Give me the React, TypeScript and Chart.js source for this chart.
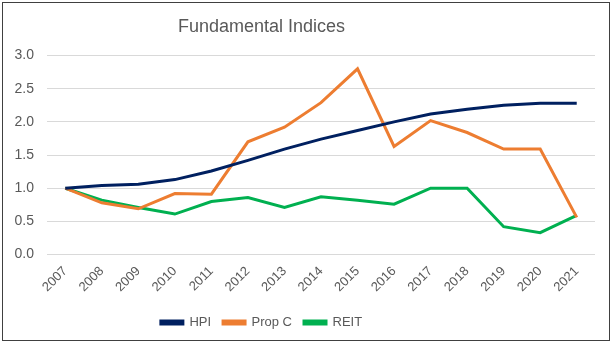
import React, { useEffect, useRef } from "react";
import { Chart, registerables } from "chart.js";

Chart.register(...registerables);

const years = ["2007","2008","2009","2010","2011","2012","2013","2014","2015","2016","2017","2018","2019","2020","2021"];
const hpi = [1.0, 1.04, 1.06, 1.13, 1.26, 1.42, 1.59, 1.74, 1.87, 2.0, 2.12, 2.19, 2.25, 2.28, 2.28];
const propC = [1.0, 0.78, 0.69, 0.92, 0.91, 1.70, 1.92, 2.29, 2.80, 1.63, 2.02, 1.84, 1.59, 1.59, 0.56];
const reit = [1.0, 0.82, 0.71, 0.61, 0.80, 0.86, 0.71, 0.87, 0.82, 0.76, 1.0, 1.0, 0.42, 0.33, 0.59];

const FONT = "'Liberation Sans', Arial, sans-serif";
const GREY = "#595959";

// Excel centres title and legend slightly left of the canvas centre
const shiftLeft = {
  id: "shiftLeft",
  afterLayout(chart: any) {
    const d = 36;
    if (chart.titleBlock) { chart.titleBlock.left -= d; chart.titleBlock.right -= d; }
    if (chart.legend) { chart.legend.left -= d; chart.legend.right -= d; }
  },
};

export default function App() {
  const ref = useRef<HTMLCanvasElement | null>(null);
  useEffect(() => {
    document.body.style.margin = "0";
    const ctx = ref.current!;
    const mk = (label: string, data: number[], color: string) => ({
      label, data, borderColor: color, backgroundColor: color,
      borderWidth: 3, pointRadius: 0, tension: 0, fill: false,
    });
    const chart = new Chart(ctx, {
      type: "line",
      data: {
        labels: years,
        datasets: [mk("HPI", hpi, "#002060"), mk("Prop C", propC, "#ED7D31"), mk("REIT", reit, "#00B050")],
      },
      plugins: [shiftLeft],
      options: {
        animation: false,
        responsive: false,
        maintainAspectRatio: false,
        layout: { padding: { left: 0, right: 19, top: 0, bottom: 7 } },
        plugins: {
          title: {
            display: true, text: "Fundamental Indices", color: GREY,
            font: { family: FONT, size: 18, weight: "normal" },
            padding: { top: 16, bottom: 18 },
          },
          legend: {
            position: "bottom",
            labels: {
              color: GREY, font: { family: FONT, size: 13 },
              boxWidth: 22, boxHeight: 3, padding: 12,
            },
          },
          tooltip: { enabled: false },
        },
        scales: {
          x: {
            offset: true,
            grid: { display: false, drawTicks: false },
            border: { display: false },
            ticks: { color: GREY, font: { family: FONT, size: 13 }, minRotation: 45, maxRotation: 45, padding: 9 },
          },
          y: {
            min: 0, max: 3,
            grid: { color: "#d9d9d9", lineWidth: 1, drawTicks: false },
            border: { display: false },
            afterFit: (s: any) => { s.width = 47; },
            ticks: {
              stepSize: 0.5, color: GREY, font: { family: FONT, size: 14 }, padding: 13,
              callback: (v: any) => Number(v).toFixed(1),
            },
          },
        },
      },
    });
    return () => chart.destroy();
  }, []);
  return (
    <div style={{ position: "relative", width: 614, height: 346 }}>
      <canvas ref={ref} width={614} height={346} style={{ position: "absolute", left: 0, top: 0 }} />
      <div style={{ position: "absolute", left: 2, top: 2, width: 606, height: 337, border: "1px solid #404040", pointerEvents: "none" }} />
    </div>
  );
}
